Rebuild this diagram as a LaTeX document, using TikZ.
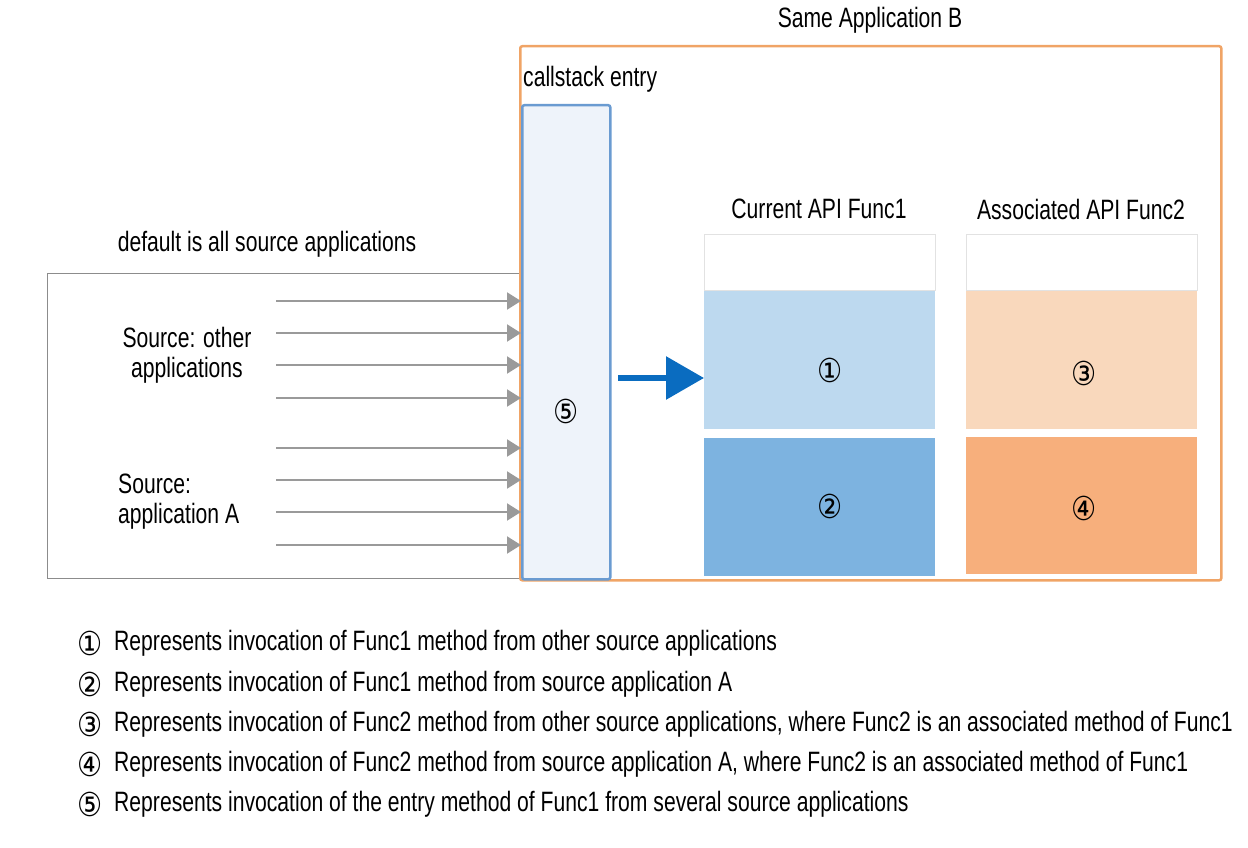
\documentclass[tikz,border=0pt]{standalone}
\usepackage{fontspec}
\setmainfont{Liberation Sans}[FakeStretch=0.755]
\newfontfamily\circfont{DejaVu Sans}[FakeStretch=0.85]
\usetikzlibrary{arrows.meta}
\definecolor{orangeB}{HTML}{F0A466}
\definecolor{csfill}{HTML}{EEF3FA}
\definecolor{csdraw}{HTML}{6A9BD1}
\definecolor{grayline}{HTML}{8C8C8C}
\definecolor{arrgray}{HTML}{9A9A9A}
\definecolor{bluearr}{HTML}{0A6CC0}
\definecolor{lblue}{HTML}{BDD9EF}
\definecolor{dblue}{HTML}{7DB3E0}
\definecolor{lorange}{HTML}{F9D8BC}
\definecolor{dorange}{HTML}{F7AF7C}
\definecolor{boxedge}{HTML}{E2E2E2}
\begin{document}
\begin{tikzpicture}[x=1pt,y=-1pt,
  txt/.style={font=\fontsize{28}{32}\selectfont, inner sep=0pt},
  circ/.style={font=\circfont\fontsize{33}{36}\selectfont, inner sep=0pt},
  srcarrow/.style={draw=arrgray, line width=2pt, -{Triangle[length=14pt,width=17pt]}},
  cell/.style={draw=none, minimum width=231pt, inner sep=0pt},
]
\useasboundingbox (0,0) rectangle (1248,848);
% left source box
\node[draw=grayline, line width=1.2pt, minimum width=473pt, minimum height=305pt, anchor=north west, inner sep=0pt] (src) at (47,273) {};
% orange application box
\node[draw=orangeB, line width=2.5pt, rounded corners=2pt, minimum width=701pt, minimum height=534pt, anchor=north west, inner sep=0pt] (appB) at (519,45) {};
\node[txt] (appBlbl) at (870,20) {Same Application B};
% callstack entry
\node[txt, anchor=west] (cslbl) at (523,79) {callstack entry};
\node[draw=csdraw, fill=csfill, line width=2.5pt, rounded corners=2pt, minimum width=88pt, minimum height=474pt, anchor=north west, inner sep=0pt] (cs) at (521,104) {};
\node[circ] (c5) at (566,411) {⑤};
% source labels
\node[txt] (deflbl) at (267,244) {default is all source applications};
\node[txt, align=center] (srcother) at (187,355) {Source: other\\[-2pt]applications};
\node[txt, align=left, anchor=west] (srcA) at (118,502) {Source:\\[-2pt]application A};
% gray arrows
\foreach \yy [count=\i] in {301,333,365,398,448,480,512,545} {
  \coordinate (s\i) at (276,\yy);
  \draw[srcarrow] (s\i) -- (s\i -| cs.west);
}
% columns
\node[txt] (t1) at (819,209) {Current API Func1};
\node[txt] (t2) at (1081,209) {Associated API Func2};
\node[cell, draw=boxedge, line width=1pt, fill=white, minimum height=56pt, anchor=north west] (w1) at (704,234) {};
\node[cell, fill=lblue, minimum height=138pt, anchor=north west] (b1) at (704,291) {};
\node[cell, fill=dblue, minimum height=138pt, anchor=north west] (b2) at (704,438) {};
\node[cell, draw=boxedge, line width=1pt, fill=white, minimum height=56pt, anchor=north west] (w2) at (966,234) {};
\node[cell, fill=lorange, minimum height=138pt, anchor=north west] (b3) at (966,291) {};
\node[cell, fill=dorange, minimum height=137pt, anchor=north west] (b4) at (966,437) {};
\node[circ] at ([xshift=10pt,yshift=-10pt]b1.center) {①};
\node[circ] at ([xshift=10pt,yshift=1pt]b2.center) {②};
\node[circ] at ([xshift=2pt,yshift=-13pt]b3.center) {③};
\node[circ] at ([xshift=2pt,yshift=-3pt]b4.center) {④};
% blue arrow
\coordinate (ba) at (618,378);
\draw[draw=bluearr, line width=6pt, -{Triangle[length=38pt,width=42pt]}] (ba) -- (ba -| b1.west);
% legend
\foreach \yy/\n/\t in {643/①/{Represents invocation of Func1 method from other source applications},
  684/②/{Represents invocation of Func1 method from source application A},
  724/③/{Represents invocation of Func2 method from other source applications, where Func2 is an associated method of Func1},
  764/④/{Represents invocation of Func2 method from source application A, where Func2 is an associated method of Func1},
  804/⑤/{Represents invocation of the entry method of Func1 from several source applications}} {
  \node[circ] (n\yy) at (90,\yy) {\n};
  \node[txt, anchor=west] (l\yy) at (114,\yy) {\t};
}
\end{tikzpicture}
\end{document}
